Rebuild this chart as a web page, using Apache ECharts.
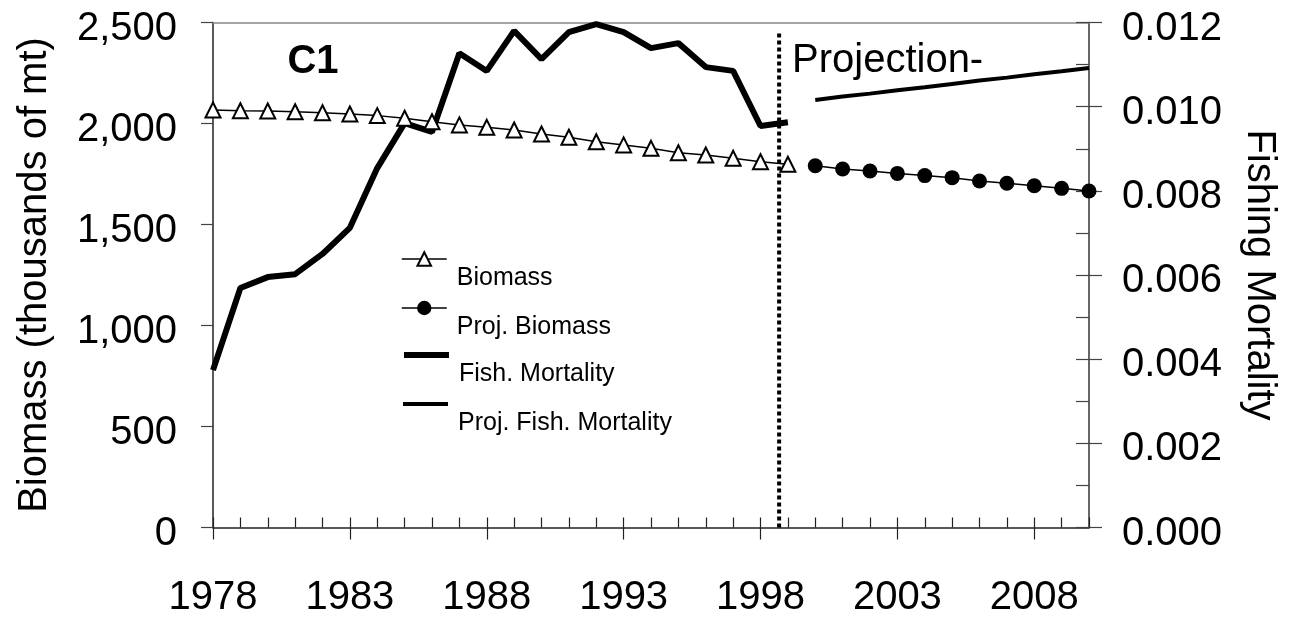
<!DOCTYPE html>
<html>
<head>
<meta charset="utf-8">
<script src="https://cdn.jsdelivr.net/npm/echarts@6/dist/echarts.min.js"></script>
<style>
  html, body { margin: 0; padding: 0; background: #fff; }
  #chart { width: 1291px; height: 622px; }
</style>
</head>
<body>
<div id="chart"></div>
<script>
// assessment years
const histYears = [1978, 1979, 1980, 1981, 1982, 1983, 1984, 1985, 1986, 1987, 1988,
  1989, 1990, 1991, 1992, 1993, 1994, 1995, 1996, 1997, 1998, 1999];
const biomass = [2067, 2063, 2062, 2058, 2053, 2047, 2039, 2026, 2009, 1993, 1981,
  1968, 1948, 1932, 1910, 1894, 1877, 1855, 1844, 1828, 1811, 1798];
const fishMort = [0.00374, 0.00569, 0.00595, 0.00602, 0.00650, 0.00712, 0.00854, 0.00961,
  0.00940, 0.01127, 0.01085, 0.01180, 0.01113, 0.01177, 0.01196, 0.01177, 0.01139,
  0.01151, 0.01094, 0.01085, 0.00954, 0.00963];

// projection years
const projYears = [2000, 2001, 2002, 2003, 2004, 2005, 2006, 2007, 2008, 2009, 2010];
const projBiomass = [1791, 1775, 1765, 1753, 1742, 1732, 1715, 1704, 1692, 1679, 1666];
const projFishMort = [0.01016, 0.01024, 0.01031, 0.01039, 0.01046, 0.01054, 0.01062,
  0.01069, 0.01077, 0.01084, 0.01092];

const majorYears = [1978, 1983, 1988, 1993, 1998, 2003, 2008];
const dividerYear = 1998.68;
const dividerTop = 2458;

const FONT = 'Liberation Sans, Arial, sans-serif';

const pairs = (xs, ys) => xs.map((x, i) => [x, ys[i]]);

const chart = echarts.init(document.getElementById('chart'));

// legend: symbol row on top, label one line lower (excel style)
const legendRows = [
  { name: 'Biomass', y: 259, h: 17, lw: 1.5, fill: '#fff', bw: 2 },
  { name: 'Proj. Biomass', y: 308, h: 18, lw: 1.5, fill: '#000', bw: 0 },
  { name: 'Fish. Mortality', y: 355, h: 18, lw: 6, fill: 'rgba(0,0,0,0)', bw: 0 },
  { name: 'Proj. Fish. Mortality', y: 404, h: 18, lw: 4, fill: 'rgba(0,0,0,0)', bw: 0 }
];
const LEG_LH = 38;

const baseX = {
  type: 'value', min: 1978, max: 2010, gridIndex: 0,
  splitLine: { show: false }
};

// excel puts the y tick labels a few px under the tick
const dropLabel = fmt => v => '\n' + fmt(v);

chart.setOption({
  animation: false,
  backgroundColor: '#fff',
  grid: { left: 213, right: 202, top: 22.5, bottom: 94.5, outerBoundsMode: 'none' },
  legend: legendRows.map(r => ({
    data: [r.name],
    left: 401,
    top: r.y - LEG_LH,
    padding: 0,
    selectedMode: false,
    itemWidth: 45,
    itemHeight: r.h,
    formatter: name => '\n' + name,
    lineStyle: { width: r.lw, color: '#000' },
    itemStyle: { color: r.fill, borderColor: '#000', borderWidth: r.bw },
    textStyle: { fontFamily: FONT, fontSize: 25, color: '#000', lineHeight: LEG_LH, padding: [0, 0, 0, 5] }
  })),
  xAxis: [
    Object.assign({}, baseX, {
      position: 'bottom',
      axisLine: { onZero: false, lineStyle: { color: '#222', width: 1.5 } },
      axisTick: { show: true, inside: false, length: 12, customValues: majorYears, lineStyle: { color: '#222', width: 1.2 } },
      axisLabel: { customValues: majorYears, formatter: v => String(v), fontFamily: FONT, fontSize: 40, color: '#000', margin: 50 }
    }),
    Object.assign({}, baseX, {
      position: 'bottom', interval: 1,
      axisLine: { show: false, onZero: false },
      axisTick: { show: true, inside: true, length: 10, lineStyle: { color: '#222', width: 1.2 } },
      axisLabel: { show: false }
    }),
    Object.assign({}, baseX, {
      position: 'top',
      axisLine: { onZero: false, lineStyle: { color: '#888', width: 1.5 } },
      axisTick: { show: false },
      axisLabel: { show: false }
    })
  ],
  yAxis: [
    {
      type: 'value', min: 0, max: 2500, interval: 500, position: 'left',
      name: 'Biomass (thousands of mt)', nameLocation: 'middle', nameGap: 158,
      nameTextStyle: { fontFamily: FONT, fontSize: 40, color: '#000' },
      axisLine: { show: true, onZero: false, lineStyle: { color: '#222', width: 1.5 } },
      axisTick: { show: true, inside: false, length: 12, lineStyle: { color: '#444', width: 1.2 } },
      axisLabel: { formatter: dropLabel(v => v.toLocaleString('en-US')), fontFamily: FONT, fontSize: 40, lineHeight: 12, color: '#000', margin: 36 },
      splitLine: { show: false }
    },
    {
      type: 'value', min: 0, max: 0.012, interval: 0.002, position: 'right',
      name: 'Fishing Mortality', nameLocation: 'middle', nameGap: 150, nameRotate: -90,
      nameTextStyle: { fontFamily: FONT, fontSize: 40, color: '#000' },
      axisLine: { show: true, onZero: false, lineStyle: { color: '#333', width: 1.5 } },
      axisTick: { show: true, inside: false, length: 13, lineStyle: { color: '#444', width: 1.2 } },
      axisLabel: { formatter: dropLabel(v => v.toFixed(3)), fontFamily: FONT, fontSize: 40, lineHeight: 12, color: '#000', margin: 33 },
      splitLine: { show: false }
    },
    {
      type: 'value', min: 0, max: 0.012, interval: 0.001, position: 'right',
      axisLine: { show: false, onZero: false },
      axisTick: { show: true, inside: true, length: 13, lineStyle: { color: '#444', width: 1.2 } },
      axisLabel: { show: false },
      splitLine: { show: false }
    }
  ],
  graphic: [
    { type: 'text', x: 313, y: 62, style: { text: 'C1', fontFamily: FONT, fontSize: 40, fontWeight: 'bold', fill: '#000', align: 'center', verticalAlign: 'middle' } },
    { type: 'text', x: 792, y: 61, style: { text: 'Projection-', fontFamily: FONT, fontSize: 40, fill: '#000', align: 'left', verticalAlign: 'middle' } }
  ],
  series: [
    {
      name: 'Fish. Mortality', type: 'line', xAxisIndex: 0, yAxisIndex: 1,
      data: pairs(histYears, fishMort),
      symbol: 'none', lineStyle: { color: '#000', width: 6 }, z: 2
    },
    {
      name: 'Proj. Fish. Mortality', type: 'line', xAxisIndex: 0, yAxisIndex: 1,
      data: pairs(projYears, projFishMort),
      symbol: 'none', lineStyle: { color: '#000', width: 4 }, z: 2
    },
    {
      name: 'Biomass', type: 'line', xAxisIndex: 0, yAxisIndex: 0,
      data: pairs(histYears, biomass),
      symbol: 'triangle', symbolSize: 15,
      itemStyle: { color: '#fff', borderColor: '#000', borderWidth: 2 },
      lineStyle: { color: '#000', width: 1.5 }, z: 3
    },
    {
      name: 'Proj. Biomass', type: 'line', xAxisIndex: 0, yAxisIndex: 0,
      data: pairs(projYears, projBiomass),
      symbol: 'circle', symbolSize: 15,
      itemStyle: { color: '#000' },
      lineStyle: { color: '#000', width: 1.5 }, z: 3
    },
    {
      name: 'divider', type: 'line', xAxisIndex: 0, yAxisIndex: 0,
      data: [[dividerYear, 0], [dividerYear, dividerTop]],
      symbol: 'none', silent: true,
      lineStyle: { color: '#000', width: 4, type: [4, 3] }, z: 4
    }
  ]
});
</script>
</body>
</html>
